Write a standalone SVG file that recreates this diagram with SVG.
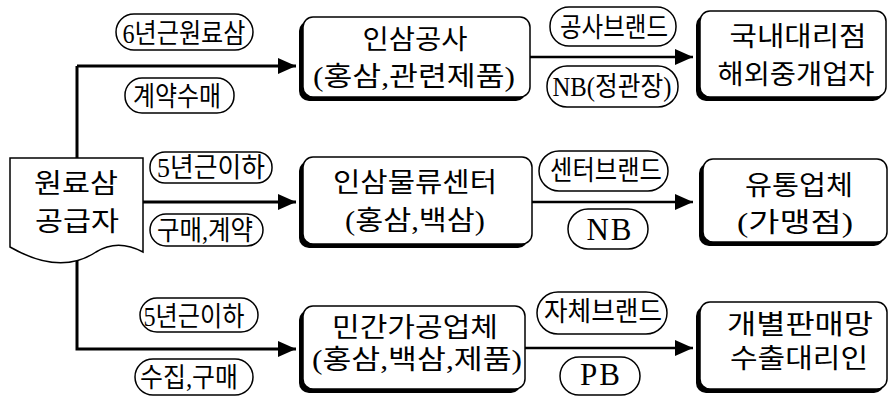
<svg xmlns="http://www.w3.org/2000/svg" width="891" height="400" viewBox="0 0 891 400">
  <style>
    .shadow { fill: #000; }
    .box { fill: #fff; stroke: #000; stroke-width: 1.5; }
    .pill { fill: #fff; stroke: #000; stroke-width: 1.5; }
    .src { fill: #fff; stroke: #000; stroke-width: 1.5; }
    .big { font-family: "Liberation Serif", "Noto Sans CJK KR", serif; font-size: 27px; fill: #000; text-anchor: middle; }
    .tag { font-family: "Liberation Serif", "Noto Sans CJK KR", serif; font-size: 27px; fill: #000; text-anchor: middle; }
    .latin { font-family: "Liberation Serif", serif; font-size: 31px; fill: #000; text-anchor: middle; letter-spacing: 2px; }
    .flow { fill: none; stroke: #000; stroke-width: 3; }
    .flow2 { fill: none; stroke: #000; stroke-width: 2.5; }
  </style>
  <defs>
    <marker id="head" markerUnits="userSpaceOnUse" markerWidth="19" markerHeight="16" refX="18" refY="8" orient="auto">
      <path d="M0,0 L18,8 L0,16 Z" fill="#000"/>
    </marker>
  </defs>
  <rect width="891" height="400" fill="#fff"/>

  <!-- connectors -->
  <g id="connectors">
    <path class="flow" d="M77,66 V349 H296" marker-end="url(#head)"/>
    <path class="flow" d="M77,66 H296" marker-end="url(#head)"/>
    <path class="flow" d="M143,202 H296" marker-end="url(#head)"/>
    <path class="flow2" d="M530,57 H693" marker-end="url(#head)"/>
    <path class="flow2" d="M532,202 H693" marker-end="url(#head)"/>
    <path class="flow2" d="M525,348 H693" marker-end="url(#head)"/>
  </g>

  <!-- raw ginseng supplier (document shape) -->
  <g id="supplier">
    <path class="src" d="M10,158 H143 V252 C128,244 112,242 96,252 C78,264 50,270 10,247 Z"/>
    <text class="big" x="76" y="193" textLength="84" lengthAdjust="spacingAndGlyphs">원료삼</text>
    <text class="big" x="77" y="231" textLength="84" lengthAdjust="spacingAndGlyphs">공급자</text>
  </g>

  <!-- edge labels -->
  <g id="label-6yr">
    <rect class="pill" x="116" y="14" width="137" height="36" rx="18"/>
    <text class="tag" x="184" y="43" textLength="123" lengthAdjust="spacingAndGlyphs">6년근원료삼</text>
  </g>
  <g id="label-contract">
    <rect class="pill" x="125" y="78" width="109" height="35" rx="17"/>
    <text class="tag" x="177" y="106" textLength="88" lengthAdjust="spacingAndGlyphs">계약수매</text>
  </g>
  <g id="label-5yr-mid">
    <rect class="pill" x="150" y="152" width="122" height="31" rx="15"/>
    <text class="tag" x="211" y="177" textLength="108" lengthAdjust="spacingAndGlyphs">5년근이하</text>
  </g>
  <g id="label-buy-mid">
    <rect class="pill" x="150" y="214" width="113" height="32" rx="16"/>
    <text class="tag" x="205" y="240" textLength="96" lengthAdjust="spacingAndGlyphs">구매,계약</text>
  </g>
  <g id="label-5yr-low">
    <rect class="pill" x="140" y="298" width="118" height="34" rx="17"/>
    <text class="tag" x="194" y="326" textLength="101" lengthAdjust="spacingAndGlyphs">5년근이하</text>
  </g>
  <g id="label-collect">
    <rect class="pill" x="135" y="359" width="118" height="36" rx="18"/>
    <text class="tag" x="189" y="387" textLength="98" lengthAdjust="spacingAndGlyphs">수집,구매</text>
  </g>

  <g id="label-kgc-brand">
    <rect class="pill" x="550" y="7" width="126" height="39" rx="19"/>
    <text class="tag" x="614" y="37" textLength="108" lengthAdjust="spacingAndGlyphs">공사브랜드</text>
  </g>
  <g id="label-nb-kgc">
    <rect class="pill" x="547" y="66" width="131" height="41" rx="20"/>
    <text class="tag" x="612" y="96" textLength="119" lengthAdjust="spacingAndGlyphs">NB(정관장)</text>
  </g>
  <g id="label-center-brand">
    <rect class="pill" x="539" y="151" width="129" height="40" rx="20"/>
    <text class="tag" x="606" y="180" textLength="112" lengthAdjust="spacingAndGlyphs">센터브랜드</text>
  </g>
  <g id="label-nb">
    <rect class="pill" x="568" y="209" width="80" height="40" rx="20"/>
    <text class="latin" x="610" y="240">NB</text>
  </g>
  <g id="label-own-brand">
    <rect class="pill" x="537" y="292" width="130" height="42" rx="21"/>
    <text class="tag" x="603" y="321" textLength="118" lengthAdjust="spacingAndGlyphs">자체브랜드</text>
  </g>
  <g id="label-pb">
    <rect class="pill" x="560" y="357" width="80" height="38" rx="19"/>
    <text class="latin" x="601" y="385">PB</text>
  </g>

  <!-- processing nodes -->
  <g id="kgc">
    <rect class="shadow" x="299" y="21" width="227" height="80" rx="10"/>
    <rect class="box" x="303" y="17" width="227" height="80" rx="10"/>
    <text class="big" x="415" y="49" textLength="105" lengthAdjust="spacingAndGlyphs">인삼공사</text>
    <text class="big" x="414" y="86" textLength="202" lengthAdjust="spacingAndGlyphs">(홍삼,관련제품)</text>
  </g>
  <g id="logistics">
    <rect class="shadow" x="299" y="161" width="229" height="87" rx="10"/>
    <rect class="box" x="303" y="157" width="229" height="87" rx="10"/>
    <text class="big" x="415" y="192" textLength="164" lengthAdjust="spacingAndGlyphs">인삼물류센터</text>
    <text class="big" x="415" y="230" textLength="140" lengthAdjust="spacingAndGlyphs">(홍삼,백삼)</text>
  </g>
  <g id="private">
    <rect class="shadow" x="299" y="310" width="222" height="83" rx="10"/>
    <rect class="box" x="303" y="306" width="222" height="83" rx="10"/>
    <text class="big" x="415" y="337" textLength="166" lengthAdjust="spacingAndGlyphs">민간가공업체</text>
    <text class="big" x="417" y="369" textLength="210" lengthAdjust="spacingAndGlyphs">(홍삼,백삼,제품)</text>
  </g>

  <!-- sales channel nodes -->
  <g id="agents">
    <rect class="shadow" x="696" y="15" width="187" height="86" rx="10"/>
    <rect class="box" x="700" y="11" width="186" height="86" rx="10"/>
    <text class="big" x="798" y="46" textLength="137" lengthAdjust="spacingAndGlyphs">국내대리점</text>
    <text class="big" x="796" y="84" textLength="157" lengthAdjust="spacingAndGlyphs">해외중개업자</text>
  </g>
  <g id="distributors">
    <rect class="shadow" x="699" y="163" width="185" height="83" rx="10"/>
    <rect class="box" x="703" y="159" width="184" height="83" rx="10"/>
    <text class="big" x="799" y="195" textLength="108" lengthAdjust="spacingAndGlyphs">유통업체</text>
    <text class="big" x="795" y="232" textLength="116" lengthAdjust="spacingAndGlyphs">(가맹점)</text>
  </g>
  <g id="direct-sales">
    <rect class="shadow" x="696" y="306" width="188" height="87" rx="10"/>
    <rect class="box" x="700" y="302" width="187" height="87" rx="10"/>
    <text class="big" x="800" y="334" textLength="146" lengthAdjust="spacingAndGlyphs">개별판매망</text>
    <text class="big" x="799" y="368" textLength="138" lengthAdjust="spacingAndGlyphs">수출대리인</text>
  </g>
</svg>
